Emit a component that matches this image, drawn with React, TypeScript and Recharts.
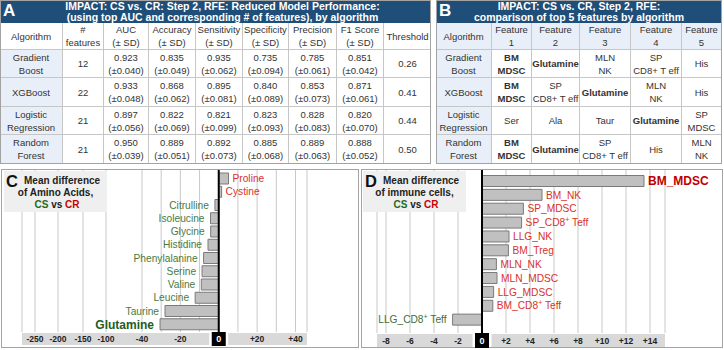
import React from 'react';
import { BarChart, Bar, XAxis, YAxis, CartesianGrid, ReferenceLine, LabelList } from 'recharts';

const FONT = '"Liberation Sans", Arial, Helvetica, sans-serif';
const HEADER_BLUE = '#1f4e79';
const CELL_BLUE = '#e8eff8';
const CELL_LINE = '#c6c6c6';
const PANEL_LINE = '#a3a3a3';
const TEXT = '#333333';
const RED = '#d7322c';
const GREEN = '#4a7a3e';
const DARK_RED = '#c00000';
const DARK_GREEN = '#1f5c1f';
const GRID = '#c9c9c9';
const BAR_FILL = '#c0c0c0';
const BAR_STROKE = '#7a7a7a';
const BAND = '#d9d9d9';

// ---------- Panel A: reduced model performance ----------
const algorithmNames = ['Gradient\nBoost', 'XGBoost', 'Logistic\nRegression', 'Random\nForest'];
const featureCounts = ['12', '22', '21', '21'];
const metricHeaders = ['AUC', 'Accuracy', 'Sensitivity', 'Specificity', 'Precision', 'F1 Score'];
const aucMean = ['0.923', '0.933', '0.897', '0.950'];
const aucSd = ['0.040', '0.048', '0.056', '0.039'];
const accuracyMean = ['0.835', '0.868', '0.822', '0.889'];
const accuracySd = ['0.049', '0.062', '0.069', '0.051'];
const sensitivityMean = ['0.935', '0.895', '0.821', '0.892'];
const sensitivitySd = ['0.062', '0.081', '0.099', '0.073'];
const specificityMean = ['0.735', '0.840', '0.823', '0.885'];
const specificitySd = ['0.094', '0.089', '0.093', '0.068'];
const precisionMean = ['0.785', '0.853', '0.828', '0.889'];
const precisionSd = ['0.061', '0.073', '0.083', '0.063'];
const f1Mean = ['0.851', '0.871', '0.820', '0.888'];
const f1Sd = ['0.042', '0.061', '0.070', '0.052'];
const thresholds = ['0.26', '0.41', '0.44', '0.50'];

// ---------- Panel B: top 5 features ----------
const featureRanks = ['1', '2', '3', '4', '5'];
const gradientBoostTop = ['BM\nMDSC', 'Glutamine', 'MLN\nNK', 'SP\nCD8+ T eff', 'His'];
const xgboostTop = ['BM\nMDSC', 'SP\nCD8+ T eff', 'Glutamine', 'MLN\nNK', 'His'];
const logisticTop = ['Ser', 'Ala', 'Taur', 'Glutamine', 'SP\nMDSC'];
const randomForestTop = ['BM\nMDSC', 'Glutamine', 'SP\nCD8+ T eff', 'His', 'MLN\nNK'];
const sharedTopFeatures = ['BM\nMDSC', 'Glutamine'];

// ---------- Panel C: amino acids ----------
const aminoAcids = ['Proline', 'Cystine', 'Citrulline', 'Isoleucine', 'Glycine', 'Histidine', 'Phenylalanine', 'Serine', 'Valine', 'Leucine', 'Taurine', 'Glutamine'];
const aminoDiff = [5.1, 1.5, -2.0, -4.3, -4.2, -5.6, -7.9, -8.7, -9.1, -12.3, -28.0, -30.6];
const aminoTicks = [-250, -200, -150, -100, -40, -30, -20, -10, 0, 10, 20, 30, 40];
const aminoTickLabels = [-250, -200, -150, -100, -40, -20, 0, 20, 40];

// ---------- Panel D: immune cells ----------
const immuneCells = ['BM_MDSC', 'BM_NK', 'SP_MDSC', 'SP_CD8⁺ Teff', 'LLG_NK', 'BM_Treg', 'MLN_NK', 'MLN_MDSC', 'LLG_MDSC', 'BM_CD8⁺ Teff', 'LLG_CD8⁺ Teff'];
const immuneDiff = [13.5, 5.0, 3.45, 3.3, 2.25, 2.2, 1.2, 1.25, 0.97, 0.9, -2.45];
const immuneTicks = [-8, -6, -4, -2, 0, 2, 4, 6, 8, 10, 12, 14];

// Broken axis for panel C: compressed beyond -40
const brokenAxisBreaks = [-278, -250, -200, -150, -100, -40, 46];
const brokenAxisSpacing = [0, 13, 36, 61, 84, 120, 285];

function piecewiseScale(breaks: number[], spacing: number[]): any {
  const total = spacing[spacing.length - 1];
  let dom: number[] = [breaks[0], breaks[breaks.length - 1]];
  let rng: number[] = [0, 1];
  const toUnit = (v: number) => {
    let i = 0;
    while (i < breaks.length - 2 && v > breaks[i + 1]) i++;
    const t = (v - breaks[i]) / (breaks[i + 1] - breaks[i]);
    return (spacing[i] + t * (spacing[i + 1] - spacing[i])) / total;
  };
  const scale: any = (v: number) => {
    const u0 = toUnit(dom[0]);
    const u1 = toUnit(dom[1]);
    return rng[0] + ((toUnit(Number(v)) - u0) / (u1 - u0)) * (rng[1] - rng[0]);
  };
  scale.domain = (...args: any[]) => {
    if (!args.length) return dom.slice();
    dom = args[0].map(Number);
    return scale;
  };
  scale.range = (...args: any[]) => {
    if (!args.length) return rng.slice();
    rng = args[0].map(Number);
    return scale;
  };
  scale.copy = () => piecewiseScale(breaks, spacing).domain(dom).range(rng);
  scale.ticks = () => breaks.slice();
  scale.tickFormat = () => (v: number) => String(v);
  scale.nice = () => scale;
  scale.clamp = () => scale;
  scale.invert = (px: number) => {
    let lo = dom[0];
    let hi = dom[1];
    for (let k = 0; k < 50; k++) {
      const mid = (lo + hi) / 2;
      if ((scale(mid) - px) * (rng[1] - rng[0]) < 0) lo = mid;
      else hi = mid;
    }
    return (lo + hi) / 2;
  };
  return scale;
}

type CellSpec = { text: string; bold?: boolean; bg?: string };

function TableGrid({ xs, ys, cells }: { xs: number[]; ys: number[]; cells: CellSpec[][] }) {
  const out: React.ReactNode[] = [];
  cells.forEach((row, r) =>
    row.forEach((cell, c) => {
      out.push(
        <div
          key={`${r}-${c}`}
          style={{
            position: 'absolute',
            left: xs[c],
            top: ys[r],
            width: xs[c + 1] - xs[c],
            height: ys[r + 1] - ys[r],
            boxSizing: 'border-box',
            borderRight: c < row.length - 1 ? `1px solid ${CELL_LINE}` : 'none',
            borderBottom: r < cells.length - 1 ? `1px solid ${CELL_LINE}` : 'none',
            background: cell.bg || '#ffffff',
            display: 'flex',
            alignItems: 'center',
            justifyContent: 'center',
            textAlign: 'center',
            whiteSpace: 'pre',
            fontSize: 9.5,
            lineHeight: '13px',
            color: TEXT,
            fontWeight: cell.bold ? 700 : 400,
          }}
        >
          {cell.text}
        </div>
      );
    })
  );
  return <>{out}</>;
}

function PanelTitle({ left, width, letter, lines, shift }: { left: number; width: number; letter: string; lines: string[]; shift: number }) {
  return (
    <div style={{ position: 'absolute', left, top: 0, width, height: 23, background: HEADER_BLUE, color: '#fff' }}>
      <div style={{ position: 'absolute', left: 3, top: 1, fontSize: 17, fontWeight: 700, lineHeight: '20px' }}>{letter}</div>
      <div style={{ position: 'absolute', left: shift, top: 0.5, width, textAlign: 'center', fontSize: 10.5, fontWeight: 700, lineHeight: '11.5px' }}>
        {lines.map((l) => (
          <div key={l}>{l}</div>
        ))}
      </div>
    </div>
  );
}

function renderSuper(label: string) {
  const parts = label.split('⁺');
  if (parts.length === 1) return label;
  return (
    <>
      {parts[0]}
      <tspan fontSize="0.7em" dy={-4}>+</tspan>
      <tspan dy={4}>{parts[1]}</tspan>
    </>
  );
}

function makeAxisTick(bandLeft: number, bandRight: number, bandH: number, shown: number[]) {
  return (props: any) => {
    const { x, y, payload, index } = props;
    const v = Number(payload.value);
    const top = y + 1;
    const nodes: React.ReactNode[] = [];
    if (index === 0) {
      nodes.push(<rect key="band" x={bandLeft} y={top} width={bandRight - bandLeft} height={bandH} fill={BAND} />);
    }
    if (v === 0) {
      nodes.push(<rect key="gap" x={x - 9.5} y={top} width={19} height={bandH} fill="#ffffff" />);
      nodes.push(<rect key="zero" x={x - 7} y={top - 1} width={14} height={bandH + 2} fill="#000000" />);
      nodes.push(
        <text key="t" x={x} y={top + bandH / 2} dy="0.36em" textAnchor="middle" fill="#ffffff" fontSize={9} fontWeight={700} fontFamily={FONT}>
          0
        </text>
      );
    } else if (shown.includes(v)) {
      nodes.push(
        <text key="t" x={x} y={top + bandH / 2} dy="0.36em" textAnchor="middle" fill="#222222" fontSize={8.5} fontWeight={700} fontFamily={FONT}>
          {v > 0 ? `+${v}` : `-${Math.abs(v)}`}
        </text>
      );
    }
    return <g>{nodes}</g>;
  };
}

function makeBarLabel(names: string[], values: number[], opts: { neg: string; pos: string; strongNeg: string; strongPos: string; size: number; strongSize: number }) {
  let lead = 0;
  values.forEach((v, i) => {
    if (Math.abs(v) > Math.abs(values[lead])) lead = i;
  });
  return (props: any) => {
    const vb = props.viewBox && props.viewBox.width !== undefined ? props.viewBox : props;
    const { x, y, width, height } = vb;
    const i = props.index;
    const v = values[i];
    const end = v < 0 ? Math.min(x, x + width) : Math.max(x, x + width);
    const strong = i === lead;
    const color = v < 0 ? (strong ? opts.strongNeg : opts.neg) : strong ? opts.strongPos : opts.pos;
    return (
      <text
        x={v < 0 ? end - 6 : end + 4}
        y={y + height / 2}
        dy="0.36em"
        textAnchor={v < 0 ? 'end' : 'start'}
        fill={color}
        fontSize={strong ? opts.strongSize : opts.size}
        fontWeight={strong ? 700 : 400}
        fontFamily={FONT}
      >
        {renderSuper(names[i])}
      </text>
    );
  };
}

function InsetBox({ left, letter, line2 }: { left: number; letter: string; line2: string }) {
  const txt: React.CSSProperties = { position: 'absolute', fontSize: 10, fontWeight: 700, lineHeight: '12px', color: '#222', whiteSpace: 'pre' };
  return (
    <div style={{ position: 'absolute', left, top: 171, width: 103, height: 41, background: '#efefef' }}>
      <div style={{ position: 'absolute', left: 2, top: 1, fontSize: 16.5, fontWeight: 700, lineHeight: '18px', color: '#111' }}>{letter}</div>
      <div style={{ ...txt, left: 20, top: 4 }}>Mean difference</div>
      <div style={{ ...txt, left: 0, width: 103, textAlign: 'center', top: 16 }}>{line2}</div>
      <div style={{ ...txt, left: 0, width: 106, textAlign: 'center', top: 28 }}>
        <span style={{ color: '#1e6b22' }}>CS</span> vs <span style={{ color: '#cc0000' }}>CR</span>
      </div>
    </div>
  );
}

export default function App() {
  const metricMeans = [aucMean, accuracyMean, sensitivityMean, specificityMean, precisionMean, f1Mean];
  const metricSds = [aucSd, accuracySd, sensitivitySd, specificitySd, precisionSd, f1Sd];

  const cellsA: CellSpec[][] = [
    [{ text: 'Algorithm' }, { text: '#\nfeatures' }, ...metricHeaders.map((h) => ({ text: `${h}\n(± SD)` })), { text: 'Threshold' }],
    ...algorithmNames.map((a, i) => [
      { text: a, bg: CELL_BLUE },
      { text: featureCounts[i] },
      ...metricMeans.map((m, k) => ({ text: `${m[i]}\n(±${metricSds[k][i]})` })),
      { text: thresholds[i] },
    ]),
  ];

  const cellsB: CellSpec[][] = [
    [{ text: 'Algorithm', bg: CELL_BLUE }, ...featureRanks.map((r) => ({ text: `Feature\n${r}`, bg: CELL_BLUE }))],
    ...[gradientBoostTop, xgboostTop, logisticTop, randomForestTop].map((feats, i) => [
      { text: algorithmNames[i], bg: CELL_BLUE },
      ...feats.map((f) => ({ text: f, bold: sharedTopFeatures.includes(f) })),
    ]),
  ];

  const rowsY = [23, 50, 78, 107, 135, 163];
  const colsA = [0, 63, 104, 149, 196, 243, 289, 337, 384, 431];
  const colsB = [436, 492, 532, 580, 631, 682, 721];

  const aminoRows = aminoAcids.map((name, i) => ({ name, diff: aminoDiff[i] }));
  const immuneRows = immuneCells.map((name, i) => ({ name, diff: immuneDiff[i] }));

  const aminoScale = piecewiseScale(brokenAxisBreaks, brokenAxisSpacing);

  const aminoLabel = makeBarLabel(aminoAcids, aminoDiff, { neg: GREEN, pos: RED, strongNeg: DARK_GREEN, strongPos: DARK_RED, size: 10.2, strongSize: 12 });
  const immuneLabel = makeBarLabel(immuneCells, immuneDiff, { neg: '#3f6f3a', pos: RED, strongNeg: DARK_GREEN, strongPos: DARK_RED, size: 10.2, strongSize: 12 });

  return (
    <div style={{ position: 'absolute', left: 0, top: 0, width: 724, height: 350, background: '#ffffff', overflow: 'hidden', fontFamily: FONT }}>
      {/* Panel A */}
      <PanelTitle
        left={0}
        width={431}
        letter="A"
        shift={7}
        lines={['IMPACT: CS vs. CR: Step 2, RFE: Reduced Model Performance:', '(using top AUC and corresponding # of features), by algorithm']}
      />
      <TableGrid xs={colsA} ys={rowsY} cells={cellsA} />
      <div style={{ position: 'absolute', left: 0, top: 0, width: 431, height: 164, boxSizing: 'border-box', border: `1px solid ${PANEL_LINE}` }} />

      {/* Panel B */}
      <PanelTitle left={436} width={286} letter="B" shift={0} lines={['IMPACT: CS vs. CR, Step 2, RFE:', 'comparison of top 5 features by algorithm']} />
      <TableGrid xs={colsB} ys={rowsY} cells={cellsB} />
      <div style={{ position: 'absolute', left: 436, top: 0, width: 286, height: 164, boxSizing: 'border-box', border: `1px solid ${PANEL_LINE}` }} />

      {/* Panel C */}
      <div style={{ position: 'absolute', left: 1, top: 169, width: 358, height: 179, boxSizing: 'border-box', border: `1px solid ${PANEL_LINE}` }} />
      <div style={{ position: 'absolute', left: 0, top: 169 }}>
        <BarChart width={360} height={181} data={aminoRows} layout="vertical" margin={{ top: 1, right: 53, bottom: 0, left: 22 }}>
          <CartesianGrid horizontal={false} stroke={GRID} />
          <XAxis
            type="number"
            dataKey="diff"
            domain={[-278, 46]}
            scale={aminoScale}
            ticks={aminoTicks}
            interval={0}
            height={18}
            tickSize={0}
            tickMargin={0}
            axisLine={false}
            tickLine={false}
            tick={makeAxisTick(22, 307, 12, aminoTickLabels)}
          />
          <YAxis type="category" dataKey="name" hide padding={{ top: 2, bottom: 1 }} />
          <Bar dataKey="diff" barSize={11} fill={BAR_FILL} stroke={BAR_STROKE} strokeWidth={1} isAnimationActive={false}>
            <LabelList dataKey="diff" content={aminoLabel} />
          </Bar>
          <ReferenceLine x={0} stroke="#000000" strokeWidth={2} />
        </BarChart>
      </div>
      <InsetBox left={4} letter="C" line2="of Amino Acids," />

      {/* Panel D */}
      <div style={{ position: 'absolute', left: 361, top: 169, width: 362, height: 179, boxSizing: 'border-box', border: `1px solid ${PANEL_LINE}` }} />
      <div style={{ position: 'absolute', left: 362, top: 169 }}>
        <BarChart width={362} height={181} data={immuneRows} layout="vertical" margin={{ top: 1, right: 59, bottom: 0, left: 15 }}>
          <CartesianGrid horizontal={false} stroke={GRID} />
          <XAxis
            type="number"
            dataKey="diff"
            domain={[-8.75, 15.25]}
            allowDataOverflow
            ticks={immuneTicks}
            interval={0}
            height={17}
            tickSize={0}
            tickMargin={0}
            axisLine={false}
            tickLine={false}
            tick={makeAxisTick(15, 303, 13, immuneTicks)}
          />
          <YAxis type="category" dataKey="name" hide padding={{ top: 4.5, bottom: 6 }} />
          <Bar dataKey="diff" barSize={11} fill={BAR_FILL} stroke={BAR_STROKE} strokeWidth={1} isAnimationActive={false}>
            <LabelList dataKey="diff" content={immuneLabel} />
          </Bar>
          <ReferenceLine x={0} stroke="#000000" strokeWidth={2} />
        </BarChart>
      </div>
      <InsetBox left={363} letter="D" line2="of immune cells," />
    </div>
  );
}
